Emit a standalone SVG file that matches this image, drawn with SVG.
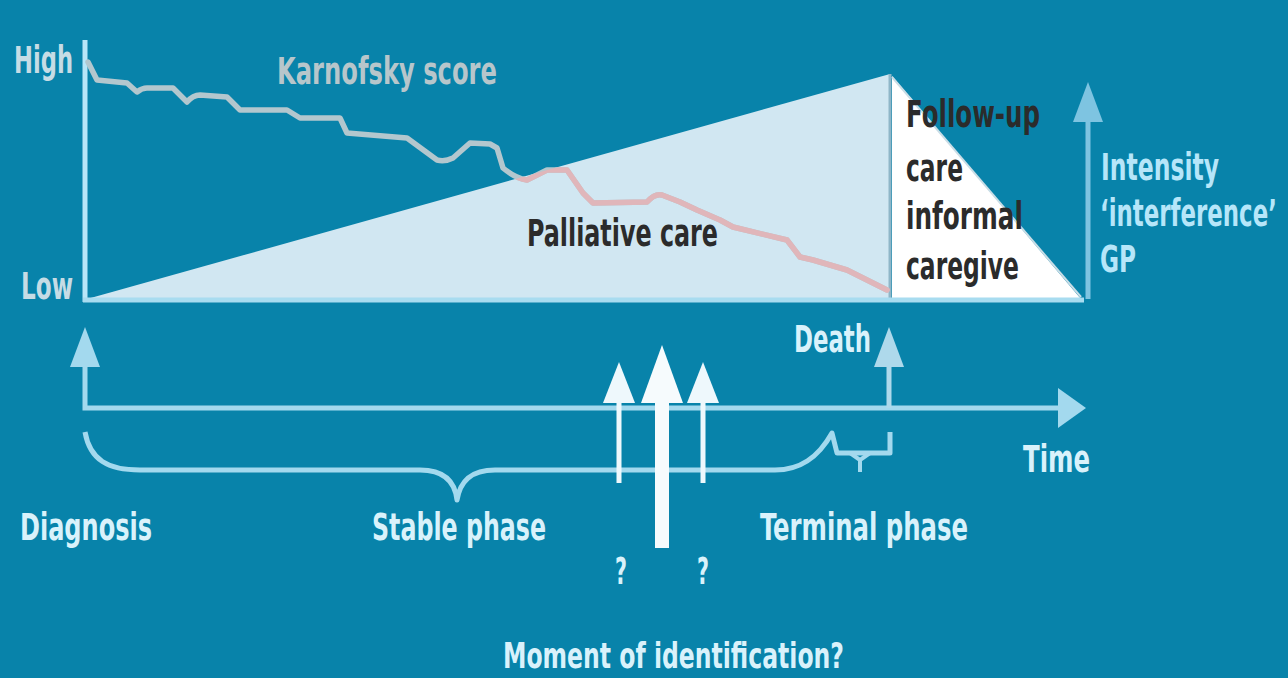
<svg xmlns="http://www.w3.org/2000/svg" width="1288" height="678" viewBox="0 0 1288 678">
<defs>
<style>
.t{font-family:"DejaVu Sans Condensed","Liberation Sans Narrow","Roboto Condensed","Liberation Sans",sans-serif;font-weight:bold;font-size:37px}
.lt{fill:#d9f2fb}
.cy{fill:#b6e6f9}
.hl{fill:#c6dce5}
.ks{fill:#b7c6cb}
.dk{fill:#2b2b2b}
.curve{fill:none;stroke-width:5.5;stroke-linejoin:round;stroke-linecap:round}
</style>
<clipPath id="tri"><polygon points="87,299 890,74 890,299"/></clipPath>
</defs>
<rect width="1288" height="678" fill="#0883aa"/>

<g id="chart">
<polygon points="87,299 890,74 890,299" fill="#d1e7f2"/>
<polygon points="892,76 892,299 1081,299" fill="#ffffff"/>
<line x1="890" y1="74" x2="890" y2="299" stroke="#8fb6c8" stroke-width="3"/>
<line x1="892" y1="77" x2="1081" y2="297" stroke="#c9dde6" stroke-width="2"/>
<line x1="85" y1="40" x2="85" y2="302" stroke="#b8e6f8" stroke-width="5"/>
<line x1="83" y1="300" x2="1084" y2="300" stroke="#a8dcf0" stroke-width="5"/>
</g>

<g id="karnofsky">
<path class="curve" stroke="#b3c7ce" d="M88,62 L97,80 L127,83 L137,92 Q142,88 147,88 L173,88 L187,102 Q193,95 200,95 L227,97 L240,110 L287,110 L300,118 L340,118 L347,133 L407,138 L437,160 Q445,162 453,158 L470,143 L490,144 L497,148 L503,168 Q515,178 527,180 L547,170 L567,170 L583,193 L593,203 L647,202 Q655,193 662,195 L680,202 L697,210 L720,220 L733,227 L787,240 L800,257 L813,260 L847,270 L887,290"/>
<path class="curve" stroke="#e0b6ba" clip-path="url(#tri)" d="M88,62 L97,80 L127,83 L137,92 Q142,88 147,88 L173,88 L187,102 Q193,95 200,95 L227,97 L240,110 L287,110 L300,118 L340,118 L347,133 L407,138 L437,160 Q445,162 453,158 L470,143 L490,144 L497,148 L503,168 Q515,178 527,180 L547,170 L567,170 L583,193 L593,203 L647,202 Q655,193 662,195 L680,202 L697,210 L720,220 L733,227 L787,240 L800,257 L813,260 L847,270 L887,290"/>
</g>

<g id="intensity-arrow">
<line x1="1088" y1="299" x2="1088" y2="115" stroke="#7ec4e1" stroke-width="5"/>
<polygon points="1088,82 1103,122 1073,122" fill="#7ec4e1"/>
</g>

<g id="connectors">
<polyline points="85,365 85,408 1060,408" fill="none" stroke="#a3d9ee" stroke-width="5"/>
<polygon points="85,327 100,367 70,367" fill="#a3d9ee"/>
<polygon points="1086,408 1058,388 1058,428" fill="#a3d9ee"/>
<line x1="889" y1="408" x2="889" y2="362" stroke="#aed9eb" stroke-width="5"/>
<polygon points="889,327 904,367 874,367" fill="#aed9eb"/>
<path d="M85,432 C90,460 108,470 140,470 L420,470 C445,470 455,482 457,500 C460,482 470,470 495,470 L775,470 C800,470 818,458 832,433 L837,453 L890,453 L890,432" fill="none" stroke="#a3d9ee" stroke-width="5" stroke-linejoin="round"/>
<path d="M850,453 L860,460 L870,453 M860,460 L860,472" fill="none" stroke="#a3d9ee" stroke-width="4"/>
<line x1="619" y1="483" x2="619" y2="398" stroke="#eef8fc" stroke-width="5"/>
<polygon points="619,362 635,403 603,403" fill="#eef8fc"/>
<line x1="703" y1="483" x2="703" y2="398" stroke="#eef8fc" stroke-width="5"/>
<polygon points="703,362 719,403 687,403" fill="#eef8fc"/>
<rect x="655" y="395" width="14" height="153" fill="#f6fbfd"/>
<polygon points="662,345 683,403 641,403" fill="#f6fbfd"/>
</g>

<g id="labels">
<text class="t hl" x="14" y="73" textLength="59" lengthAdjust="spacingAndGlyphs">High</text>
<text class="t hl" x="21" y="299" textLength="52" lengthAdjust="spacingAndGlyphs">Low</text>
<text class="t ks" x="277" y="84" textLength="220" lengthAdjust="spacingAndGlyphs">Karnofsky score</text>
<text class="t dk" x="527" y="246" textLength="191" lengthAdjust="spacingAndGlyphs">Palliative care</text>
<text class="t dk" x="906" y="127" textLength="134" lengthAdjust="spacingAndGlyphs">Follow-up</text>
<text class="t dk" x="906" y="181" textLength="57" lengthAdjust="spacingAndGlyphs">care</text>
<text class="t dk" x="906" y="229" textLength="117" lengthAdjust="spacingAndGlyphs">informal</text>
<text class="t dk" x="906" y="279" textLength="113" lengthAdjust="spacingAndGlyphs">caregive</text>
<text class="t cy" x="1101" y="180" textLength="118" lengthAdjust="spacingAndGlyphs">Intensity</text>
<text class="t cy" transform="translate(1100,226) scale(0.66,1)" x="0" y="0" textLength="268" lengthAdjust="spacingAndGlyphs">‘interference’</text>
<text class="t cy" x="1100" y="272" textLength="36" lengthAdjust="spacingAndGlyphs">GP</text>
<text class="t lt" x="794" y="352" textLength="77" lengthAdjust="spacingAndGlyphs">Death</text>
<text class="t lt" x="1023" y="472" textLength="67" lengthAdjust="spacingAndGlyphs">Time</text>
<text class="t lt" x="20" y="540" textLength="132" lengthAdjust="spacingAndGlyphs">Diagnosis</text>
<text class="t lt" x="372" y="540" textLength="174" lengthAdjust="spacingAndGlyphs">Stable phase</text>
<text class="t lt" x="760" y="540" textLength="208" lengthAdjust="spacingAndGlyphs">Terminal phase</text>
<text class="t lt" x="615" y="584" textLength="12" lengthAdjust="spacingAndGlyphs">?</text>
<text class="t lt" x="697" y="584" textLength="12" lengthAdjust="spacingAndGlyphs">?</text>
<text class="t lt" x="503" y="668" textLength="341" lengthAdjust="spacingAndGlyphs" style="font-size:35px">Moment of identification?</text>
</g>
</svg>
